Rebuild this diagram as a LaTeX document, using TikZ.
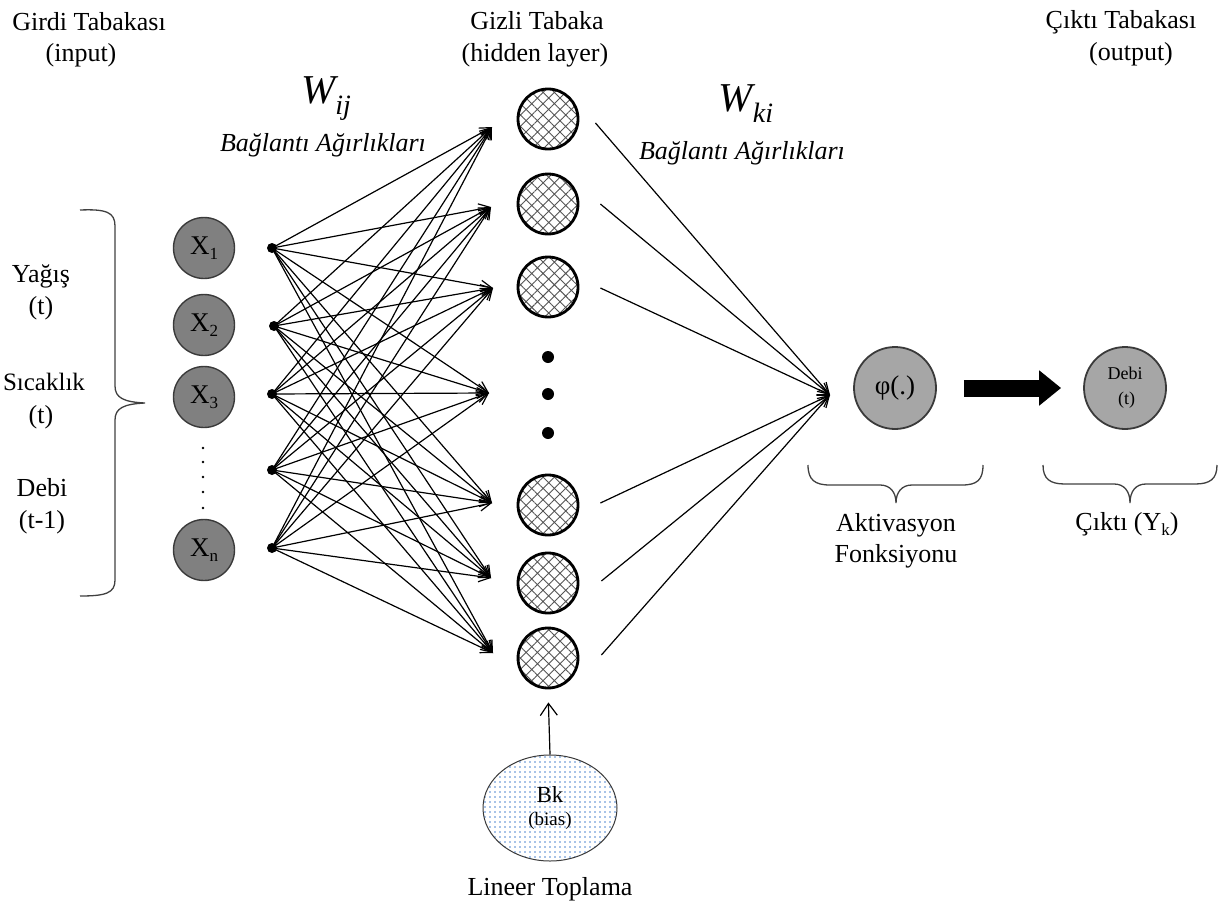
\documentclass[tikz,border=0pt]{standalone}
\usepackage{fontspec}
\setmainfont{Liberation Serif}
\usetikzlibrary{arrows.meta,patterns.meta,shapes.geometric}
\definecolor{nodegray}{HTML}{808080}
\definecolor{actgray}{HTML}{A6A6A6}
\definecolor{rimgray}{HTML}{3A3A3A}
\definecolor{hatchgray}{HTML}{555555}
\definecolor{dotblue}{HTML}{4F86CF}
\definecolor{bracegray}{HTML}{404040}
\newcommand\fs[1]{\fontsize{#1}{#1}\selectfont}

\begin{document}
\begin{tikzpicture}[x=1pt,y=-1pt,
  lbl/.style={inner sep=0pt, font=\fs{26}},
  ilbl/.style={inner sep=0pt, font=\fs{26}\itshape},
  innode/.style={circle, minimum size=61pt, inner sep=0pt, fill=nodegray,
    draw=rimgray, line width=1.4pt, font=\fs{27}},
  hidnode/.style={circle, minimum size=60pt, inner sep=0pt, draw=black,
    line width=2.8pt, pattern={Hatch[angle=45,distance=8pt,line width=0.9pt]},
    pattern color=hatchgray},
  actnode/.style={circle, minimum size=82pt, inner sep=0pt, fill=actgray,
    draw=rimgray, line width=1.8pt},
  junc/.style={circle, fill=black, minimum size=10pt, inner sep=0pt},
  bigdot/.style={circle, fill=black, minimum size=12pt, inner sep=0pt},
  smalldot/.style={circle, fill=black, minimum size=2.6pt, inner sep=0pt},
  conn/.style={line width=1.2pt, -{Straight Barb[length=11pt,width=11pt]}},
  bracestyle/.style={draw=bracegray, line width=1.3pt},
]
\useasboundingbox (0,0) rectangle (1220,907);

% layer titles
\node[lbl] (t-in1) at (89,22) {Girdi Tabakası};
\node[lbl] (t-in2) at (81,55) {(input)};
\node[lbl] (t-hid1) at (537,21) {Gizli Tabaka};
\node[lbl] (t-hid2) at (535,55) {(hidden layer)};
\node[lbl] (t-out1) at (1121,22) {Çıktı Tabakası};
\node[lbl] (t-out2) at (1131,54) {(output)};

% weight labels
\node[inner sep=0pt] (wij) at (326,99) {{\fs{41}\itshape W}\raisebox{-11pt}{\fs{28}\itshape ij}};
\node[ilbl] (wij-txt) at (323,145) {Bağlantı Ağırlıkları};
\node[inner sep=0pt] (wki) at (746,104) {{\fs{41}\itshape W}\raisebox{-11pt}{\fs{28}\itshape ki}};
\node[ilbl] (wki-txt) at (742,153) {Bağlantı Ağırlıkları};

% input variable names
\node[lbl] (v1a) at (41,276) {Yağış};
\node[lbl] (v1b) at (41,308) {(t)};
\node[inner sep=0pt, font=\fs{25}] (v2a) at (44,382) {Sıcaklık};
\node[lbl] (v2b) at (41,417) {(t)};
\node[lbl] (v3a) at (42,488) {Debi};
\node[lbl] (v3b) at (42,522) {(t-1)};

% brace grouping the input variables
\draw[bracestyle] (80,210) .. controls (106,209) and (115,212) .. (115,226)
  -- (115,386) .. controls (115,398) and (124,402) .. (145,403)
  .. controls (124,404) and (115,408) .. (115,420)
  -- (115,580) .. controls (115,593) and (106,596) .. (80,596);

% input neurons
\node[innode] (x1) at (204,248) {X\raisebox{-5pt}{\fs{17}1}};
\node[innode] (x2) at (204,325) {X\raisebox{-5pt}{\fs{17}2}};
\node[innode] (x3) at (204,397) {X\raisebox{-5pt}{\fs{17}3}};
\node[innode] (xn) at (204,550) {X\raisebox{-5pt}{\fs{17}n}};
\foreach \yy [count=\i] in {448,462,477,492,508}
  \node[smalldot] (vd\i) at (203,\yy) {};

% junction points
\node[junc] (j1) at (272,248) {};
\node[junc] (j2) at (274,326) {};
\node[junc] (j3) at (272,394) {};
\node[junc] (j4) at (272,470) {};
\node[junc] (j5) at (272,548) {};

% hidden neurons
\node[hidnode] (h1) at (548,119) {};
\node[hidnode] (h2) at (548,204) {};
\node[hidnode] (h3) at (548,287) {};
\node[hidnode] (h4) at (548,505) {};
\node[hidnode] (h5) at (548,583) {};
\node[hidnode] (h6) at (548,658) {};
\node[bigdot] (hd1) at (548,357) {};
\node[bigdot] (hd2) at (548,394) {};
\node[bigdot] (hd3) at (548,433) {};

% arrow tips in front of the hidden layer
\coordinate (t1) at (492,127);
\coordinate (t2) at (491,207);
\coordinate (t3) at (493,288);
\coordinate (t4) at (489,393);
\coordinate (t5) at (492,503);
\coordinate (t6) at (491,578);
\coordinate (t7) at (493,653);

\foreach \j in {1,...,5}
  \foreach \t in {1,...,7}
    \draw[conn] (j\j.center) -- (t\t);

% activation and output
\node[actnode, font=\fs{27}] (phi) at (895,388) {φ(.)};
\node[actnode, font=\fontsize{18}{25}\selectfont, align=center] (out) at (1125,388) {Debi\\\,(t)};
\coordinate (phiin) at (830,395);

\draw[conn] (h1.east) ++(17,4) -- (phiin);
\draw[conn] (h2.east) ++(21,0) -- (phiin);
\draw[conn] (h3.east) ++(21,1) -- (phiin);
\draw[conn] (h4.east) ++(21,-2) -- (phiin);
\draw[conn] (h5.east) ++(22,-2) -- (phiin);
\draw[conn] (h6.east) ++(22,-3) -- (phiin);

\draw[line width=17pt, -{Triangle[length=22pt,width=34pt]},
  shorten <=27pt, shorten >=22pt] (phi.east) -- (out.west);

% bias
\node[ellipse, minimum width=134pt, minimum height=106pt, inner sep=0pt,
  draw=rimgray, line width=1pt,
  pattern={Dots[distance=5pt,radius=0.8pt]}, pattern color=dotblue,
  align=center] (bias) at (550,808) {{\fs{23}Bk}\\[9pt]{\fs{19}(bias)}};
\draw[line width=1.2pt, -{Straight Barb[length=12pt,width=17pt]},
  shorten >=13pt] (bias.north) -- (h6.south);
\node[lbl] (lin) at (550,889) {Lineer Toplama};

% braces under activation and output
\draw[bracestyle] (808,465) .. controls (808,480) and (815,485) .. (830,485)
  -- (880,485) .. controls (890,485) and (896,492) .. (896,503)
  .. controls (896,492) and (902,485) .. (912,485)
  -- (962,485) .. controls (977,485) and (983,480) .. (983,465);
\draw[bracestyle] (1043,465) .. controls (1043,479) and (1050,484) .. (1065,484)
  -- (1114,484) .. controls (1124,484) and (1130,491) .. (1130,503)
  .. controls (1130,491) and (1136,484) .. (1146,484)
  -- (1195,484) .. controls (1210,484) and (1217,479) .. (1217,465);

\node[lbl] (akt1) at (896,525) {Aktivasyon};
\node[lbl] (akt2) at (896,556) {Fonksiyonu};
\node[lbl] (cikti) at (1127,524) {Çıktı (Y\raisebox{-5pt}{\fs{17}k})};
\end{tikzpicture}
\end{document}
